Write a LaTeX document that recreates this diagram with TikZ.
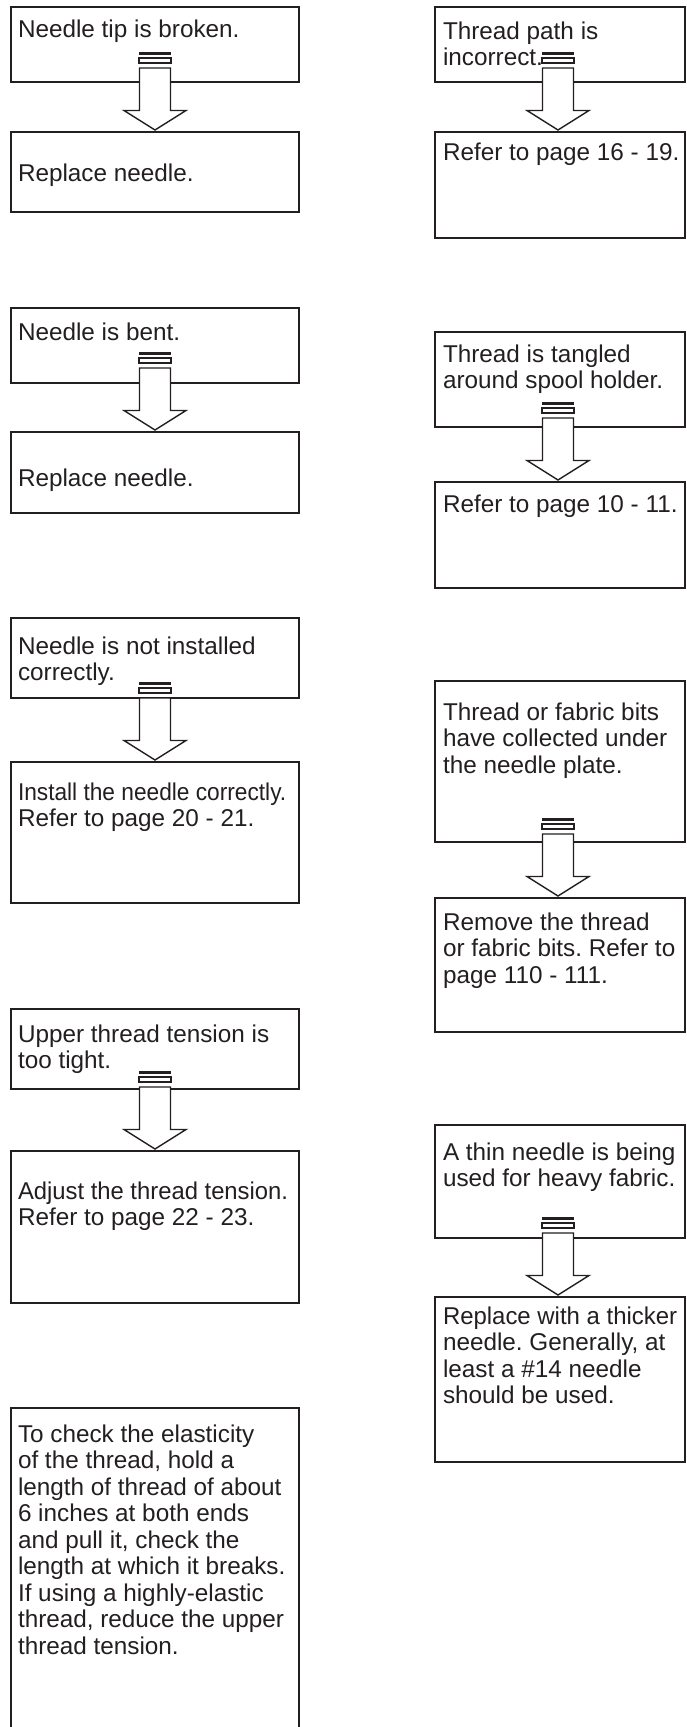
\documentclass[tikz,border=0pt]{standalone}
\usepackage{fontspec}
\setmainfont{Liberation Sans}
\usepackage{graphicx}
\usetikzlibrary{calc}
\definecolor{ink}{HTML}{231F20}
\tikzset{
  boxst/.style={draw=ink, line width=2.2pt, rectangle, inner sep=0pt, outer sep=0pt, anchor=north west},
  lbox/.style={boxst, minimum width=288pt},
  rbox/.style={boxst, minimum width=250pt},
  txt/.style={anchor=north west, inner sep=0pt, outer sep=0pt, align=left, text=ink, font=\fontsize{24.3}{26.5}\selectfont\frenchspacing},
  arrowst/.style={draw=ink, line width=1.4pt, fill=white, line join=miter},
  barst/.style={draw=ink, line width=3.3pt},
}
% block arrow from box #1 ending just above box #2 (#3 = horizontal offset)
\newcommand\flowarrow[3]{%
  \begin{scope}[shift={($(#2.north)+(#3,0)$)}]
    \draw[arrowst] (-15.5,-64) -- (-15.5,-21.5) -- (-31,-21.5) -- (0,-2) -- (31,-21.5) -- (15.5,-21.5) -- (15.5,-64) -- cycle;
    \draw[arrowst] (-16,-74) rectangle (16,-69);
    \draw[barst] (-16,-78.5) -- (16,-78.5);
  \end{scope}}
\begin{document}
\begin{tikzpicture}[x=1pt,y=-1pt]
\path[use as bounding box] (0,0) rectangle (686,1727);
\clip (0,0) rectangle (686,1727);
% left column boxes
\node[lbox, minimum height=75pt]  (L1) at (11,7) {};
\node[lbox, minimum height=80pt]  (L2) at (11,132) {};
\node[lbox, minimum height=75pt]  (L3) at (11,308) {};
\node[lbox, minimum height=81pt]  (L4) at (11,432) {};
\node[lbox, minimum height=80pt]  (L5) at (11,618) {};
\node[lbox, minimum height=141pt] (L6) at (11,762) {};
\node[lbox, minimum height=80pt]  (L7) at (11,1009) {};
\node[lbox, minimum height=152pt] (L8) at (11,1151) {};
\node[lbox, minimum height=340pt] (L9) at (11,1408) {};
% right column boxes
\node[rbox, minimum height=75pt]  (R1) at (435,7) {};
\node[rbox, minimum height=106pt] (R2) at (435,132) {};
\node[rbox, minimum height=95pt]  (R3) at (435,332) {};
\node[rbox, minimum height=106pt] (R4) at (435,482) {};
\node[rbox, minimum height=161pt] (R5) at (435,681) {};
\node[rbox, minimum height=134pt] (R6) at (435,898) {};
\node[rbox, minimum height=113pt] (R7) at (435,1125) {};
\node[rbox, minimum height=165pt] (R8) at (435,1297) {};
% texts
\node[txt] (tL1) at (18,19) {\strut Needle tip is broken.};
\node[txt] (tL2) at (18,162.5) {\strut Replace needle.};
\node[txt] (tL3) at (18,321.5) {\strut Needle is bent.};
\node[txt] (tL4) at (18,467.5) {\strut Replace needle.};
\node[txt] (tL5) at (18,635.5) {\strut Needle is not installed\\correctly.};
\node[txt] (tL6) at (18,781.5) {\strut\scalebox{0.934}[1]{Install the needle correctly.}\\Refer to page 20 - 21.};
\node[txt] (tL7) at (18,1023.5) {\strut Upper thread tension is\\too tight.};
\node[txt] (tL8) at (18,1180.5) {\strut\scalebox{0.98}[1]{Adjust the thread tension.}\\Refer to page 22 - 23.};
\node[txt] (tL9) at (18,1423.5) {\strut To check the elasticity\\of the thread, hold a\\length of thread of about\\6 inches at both ends\\and pull it, check the\\length at which it breaks.\\If using a highly-elastic\\thread, reduce the upper\\thread tension.};
\node[txt] (tR1) at (443,20.5) {\strut Thread path is\\incorrect.};
\node[txt] (tR2) at (443,141.5) {\strut Refer to page 16 - 19.};
\node[txt] (tR3) at (443,343.5) {\strut Thread is tangled\\around spool holder.};
\node[txt] (tR4) at (443,493.5) {\strut Refer to page 10 - 11.};
\node[txt] (tR5) at (443,701.5) {\strut Thread or fabric bits\\have collected under\\the needle plate.};
\node[txt] (tR6) at (443,911.5) {\strut Remove the thread\\or fabric bits. Refer to\\page 110 - 111.};
\node[txt] (tR7) at (443,1141.5) {\strut A thin needle is being\\used for heavy fabric.};
\node[txt] (tR8) at (443,1305.5) {\strut\scalebox{0.985}[1]{Replace with a thicker}\\needle. Generally, at\\least a \#14 needle\\should be used.};
% arrows
\flowarrow{L1}{L2}{0}
\flowarrow{L3}{L4}{0}
\flowarrow{L5}{L6}{0}
\flowarrow{L7}{L8}{0}
\flowarrow{R1}{R2}{-2}
\flowarrow{R3}{R4}{-2}
\flowarrow{R5}{R6}{-2}
\flowarrow{R7}{R8}{-2}
\end{tikzpicture}
\end{document}
